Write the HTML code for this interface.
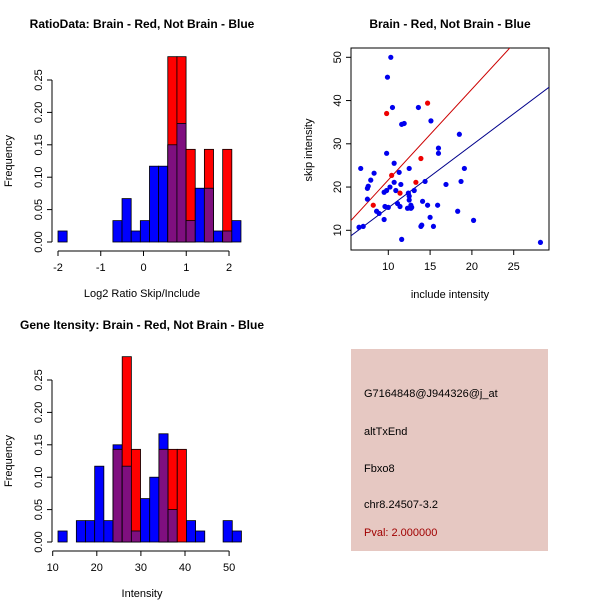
<!DOCTYPE html>
<html><head><meta charset="utf-8">
<style>
body{margin:0;background:#fff;}
svg{display:block;font-family:"Liberation Sans",sans-serif;}
</style></head>
<body>
<svg id="c" width="600" height="600" viewBox="0 0 600 600">
<rect x="0" y="0" width="600" height="600" fill="#fff"/>
<g id="g1"></g>
<g id="g2"></g>
<g id="g3"></g>
<g>
<rect x="351" y="349" width="197" height="202" fill="#e6c8c2"/>
<text x="364" y="397" font-size="11" fill="#000">G7164848@J944326@j_at</text>
<text x="364" y="435" font-size="11" fill="#000">altTxEnd</text>
<text x="364" y="472" font-size="11" fill="#000">Fbxo8</text>
<text x="364" y="508" font-size="11" fill="#000">chr8.24507-3.2</text>
<text x="364" y="536" font-size="11" fill="#a00000">Pval: 2.000000</text>
</g>
</svg>
<script>
// ---- Ratio histogram data ----
const ratioBinStart = -2;
const ratioBinWidth = 0.214;
const ratioBlue = [0.017,0,0,0,0,0,0.033,0.067,0.017,0.033,0.117,0.117,0.15,0.183,0.033,0.083,0.083,0.017,0.017,0.033];
const ratioRed  = [0,0,0,0,0,0,0,0,0,0,0,0,0.286,0.286,0.143,0,0.143,0,0.143,0];
const ratioXTicks = [-2,-1,0,1,2];
const freqTicks = ["0.00","0.05","0.10","0.15","0.20","0.25"];
// ---- Intensity histogram data ----
const intBinStart = 11.2;
const intBinWidth = 2.08;
const intBlue = [0.017,0,0.033,0.033,0.117,0.033,0.15,0.117,0.017,0.067,0.1,0.167,0.05,0,0.033,0.017,0,0,0.033,0.017];
const intRed  = [0,0,0,0,0,0,0.143,0.286,0.143,0,0,0.143,0.143,0.143,0,0,0,0,0,0];
const intXTicks = [10,20,30,40,50];
// ---- Scatter data ----
const blueX = [10.3,9.9,10.5,13.6,11.6,11.9,15.1,18.5,16,16,9.8,10.7,6.7,8.3,12.5,19.1,11.3,7.9,10.7,11.5,7.6,7.5,10.2,16.9,18.7,14.4,10.9,9.8,9.5,13.1,12.4,12.5,12.5,7.5,11.1,11.4,9.6,10,12.7,12.8,12.3,12.7,14.1,14.7,15.9,8.6,8.9,18.3,15,9.5,20.2,13.9,14,15.4,6.5,7,11.6,28.2];
const blueY = [50,45.4,38.4,38.4,34.5,34.7,35.3,32.2,29,27.8,27.8,25.5,24.3,23.2,24.3,24.3,23.4,21.6,21.1,20.6,20.2,19.7,20,20.6,21.3,21.3,19.2,19.2,18.8,19.2,18.6,17.9,17,17.2,16.2,15.5,15.5,15.3,15.8,15.3,15.1,15.1,16.7,15.8,15.8,14.4,13.9,14.4,13,12.5,12.3,10.9,11.2,10.9,10.7,10.9,7.9,7.2];
const redX = [14.7,9.8,13.9,10.4,13.3,11.4,8.2];
const redY = [39.4,37,26.6,22.7,21.1,18.6,15.8];
const redFit = [0.64,2.1];   // intercept, slope
const blueFit = [0.7,1.45];
const scXTicks = [10,15,20,25];
const scYTicks = [10,20,30,40,50];

const NS="http://www.w3.org/2000/svg";
function mk(parent,tag,attrs){const e=document.createElementNS(NS,tag);for(const k in attrs)e.setAttribute(k,attrs[k]);parent.appendChild(e);return e;}

function hist(g, bStart, bW, blue, red, xTicks, xmap, y0, yScale, xAxisY, xLab, title, titleY, tickFmt){
  const ymap = v => y0 - v*yScale;
  for(let i=0;i<blue.length;i++){
    const x1=xmap(bStart+i*bW), x2=xmap(bStart+(i+1)*bW);
    const b=blue[i], r=red[i];
    if(b>0){const e=mk(g,'rect',{x:x1,y:ymap(b),width:x2-x1,height:y0-ymap(b),fill:'#0000ff',stroke:'#000','stroke-width':0.8});
      
      }
    if(r>0){const e=mk(g,'rect',{x:x1,y:ymap(r),width:x2-x1,height:y0-ymap(r),fill:'#ff0000',stroke:'#000','stroke-width':0.8});
      
      }
    if(b>0&&r>0){const m=Math.min(b,r);const e=mk(g,'rect',{x:x1,y:ymap(m),width:x2-x1,height:y0-ymap(m),fill:'#7f0f7f',stroke:'#000','stroke-width':0.8});
      
      }
  }
  // x axis
  const xa=mk(g,'line',{x1:xmap(xTicks[0]),x2:xmap(xTicks[xTicks.length-1]),y1:xAxisY,y2:xAxisY,stroke:'#000'});
  
  
  xTicks.forEach(t=>{
    mk(g,'line',{x1:xmap(t),x2:xmap(t),y1:xAxisY,y2:xAxisY+5,stroke:'#000'});
    const tx=mk(g,'text',{x:xmap(t),y:xAxisY+20,'font-size':11,'text-anchor':'middle'});tx.textContent=t;
    
    
  });
  // y axis
  const ax=52;
  const ya=mk(g,'line',{x1:ax,x2:ax,y1:ymap(0),y2:ymap(0.25),stroke:'#000'});
  
  
  tickFmt.forEach((lab,i)=>{
    const y=ymap(i*0.05);
    mk(g,'line',{x1:ax-5,x2:ax,y1:y,y2:y,stroke:'#000'});
    const tx=mk(g,'text',{x:0,y:0,'font-size':11,'text-anchor':'middle',transform:`translate(${ax-10},${y}) rotate(-90)`});tx.textContent=lab;
    
    
  });
  const yl=mk(g,'text',{x:0,y:0,'font-size':11,'text-anchor':'middle',transform:`translate(12,${ymap(0.125)}) rotate(-90)`});yl.textContent='Frequency';
  
  
  const xl=mk(g,'text',{x:142,y:xAxisY+46,'font-size':11,'text-anchor':'middle'});xl.textContent=xLab;
  
  
  const tt=mk(g,'text',{x:142,y:titleY,'font-size':12,'font-weight':'bold','text-anchor':'middle'});tt.textContent=title;
  
  
}

hist(document.getElementById('g1'), ratioBinStart, ratioBinWidth, ratioBlue, ratioRed, ratioXTicks,
  v=>58+(v+2)*42.75, 242, 648, 251, 'Log2 Ratio Skip/Include', 'RatioData: Brain - Red, Not Brain - Blue', 28, freqTicks);
hist(document.getElementById('g3'), intBinStart, intBinWidth, intBlue, intRed, intXTicks,
  v=>52.7+(v-10)*4.41, 542, 648, 551, 'Intensity', 'Gene Itensity: Brain - Red, Not Brain - Blue', 329, freqTicks);

// scatter
(function(){
  const g=document.getElementById('g2');
  const L=351,R=549,T=48,B=250;
  const xm=v=>388.3+(v-10)*8.36, ym=v=>230.3-(v-10)*4.325;
  const fr=mk(g,'rect',{x:L,y:T,width:R-L,height:B-T,fill:'none',stroke:'#000'});
  
  
  const cp=mk(g,'clipPath',{id:'scclip'});mk(cp,'rect',{x:L,y:T,width:R-L,height:B-T});
  function fitLine(f,col,name){
    const x0=5,x1=32;
    const l=mk(g,'line',{x1:xm(x0),y1:ym(f[0]+f[1]*x0),x2:xm(x1),y2:ym(f[0]+f[1]*x1),stroke:col,'stroke-width':1,'clip-path':'url(#scclip)'});
    
    
  }
  fitLine(redFit,'#cc0000','red-fit-line');
  fitLine(blueFit,'#00008b','blue-fit-line');
  blueX.forEach((x,i)=>{const c=mk(g,'circle',{cx:xm(x),cy:ym(blueY[i]),r:2.6,fill:'#0000ee'});
    
    });
  redX.forEach((x,i)=>{const c=mk(g,'circle',{cx:xm(x),cy:ym(redY[i]),r:2.6,fill:'#ee0000'});
    
    });
  scXTicks.forEach(t=>{
    mk(g,'line',{x1:xm(t),x2:xm(t),y1:B,y2:B+5,stroke:'#000'});
    const tx=mk(g,'text',{x:xm(t),y:B+20,'font-size':11,'text-anchor':'middle'});tx.textContent=t;
    
    
  });
  scYTicks.forEach(t=>{
    mk(g,'line',{x1:L-5,x2:L,y1:ym(t),y2:ym(t),stroke:'#000'});
    const tx=mk(g,'text',{x:0,y:0,'font-size':11,'text-anchor':'middle',transform:`translate(${L-10},${ym(t)}) rotate(-90)`});tx.textContent=t;
    
    
  });
  const xl=mk(g,'text',{x:450,y:298,'font-size':11,'text-anchor':'middle'});xl.textContent='include intensity';
  
  
  const yl=mk(g,'text',{x:0,y:0,'font-size':11,'text-anchor':'middle',transform:'translate(312,150) rotate(-90)'});yl.textContent='skip intensity';
  
  
  const tt=mk(g,'text',{x:450,y:28,'font-size':12,'font-weight':'bold','text-anchor':'middle'});tt.textContent='Brain - Red, Not Brain - Blue';
  
  
})();
</script>
</body></html>
